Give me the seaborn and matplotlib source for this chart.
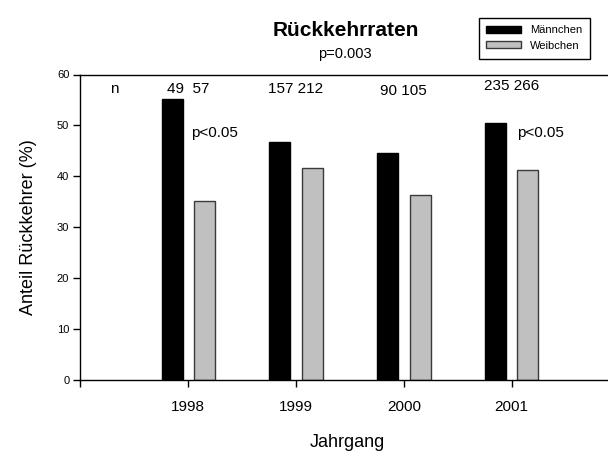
import matplotlib
matplotlib.use("Agg")
import matplotlib.pyplot as plt
import seaborn as sns
import pandas as pd
from matplotlib.patches import Patch

years = ["1998", "1999", "2000", "2001"]
maennchen = [55.2, 46.8, 44.6, 50.4]
weibchen = [35.1, 41.7, 36.3, 41.2]
n_labels = ["49  57", "157 212", "90 105", "235 266"]
series_names = ["Männchen", "Weibchen"]
colors = ["#000000", "#c0c0c0"]
edge_colors = ["#000000", "#3a3a3a"]

df = pd.DataFrame({
    "Jahrgang": years * 2,
    "Anteil": maennchen + weibchen,
    "Geschlecht": [series_names[0]] * 4 + [series_names[1]] * 4,
})

sns.set_style("ticks")
plt.rcParams["font.family"] = ["Liberation Sans", "DejaVu Sans"]
plt.rcParams["text.color"] = "black"
plt.rcParams["axes.labelcolor"] = "black"
plt.rcParams["xtick.color"] = "black"
plt.rcParams["ytick.color"] = "black"

fig = plt.figure(figsize=(6.08, 4.53), dpi=100)
ax = fig.add_axes([80.4 / 608, 1 - 379.5 / 453, 1 - 80.4 / 608 + 0.01, (379.5 - 74.5) / 453])

sns.barplot(data=df, x="Jahrgang", y="Anteil", hue="Geschlecht", order=years,
            hue_order=series_names, palette=colors, width=0.6, gap=0.35,
            saturation=1, legend=False, ax=ax, errorbar=None)

for cont, ec in zip(ax.containers, edge_colors):
    for p in cont:
        p.set_edgecolor(ec)
        p.set_linewidth(1.0)

ax.set_xlim(-1, 3.95)
ax.set_ylim(0, 60)
ax.set_xticks([-1, 0, 1, 2, 3])
ax.set_xticklabels([""] + years, fontsize=11)
ax.set_yticks(range(0, 61, 10))
ax.set_yticklabels([str(v) for v in range(0, 61, 10)], fontsize=8)
ax.tick_params(axis="both", direction="out", length=5, width=1, color="black",
               labelcolor="black")
ax.tick_params(axis="x", pad=10)
ax.tick_params(axis="y", pad=3)

for side in ["left", "bottom", "top"]:
    ax.spines[side].set_visible(True)
    ax.spines[side].set_color("black")
    ax.spines[side].set_linewidth(1.0)
ax.spines["right"].set_visible(False)

ax.set_xlabel("Jahrgang", fontsize=13, labelpad=14, color="black")
ax.set_ylabel("Anteil Rückkehrer (%)", fontsize=13, labelpad=14, color="black")

# n annotations
ax.text(-0.69, 57.2, "n", fontsize=11, ha="center", va="center", color="black")
n_x = [0.0, 1.0, 2.0, 3.0]
n_y = [57.2, 57.2, 56.7, 57.7]
for x, y, t in zip(n_x, n_y, n_labels):
    ax.text(x, y, t, fontsize=11, ha="center", va="center", color="black")

ax.text(0.03, 48.5, "p<0.05", fontsize=11, ha="left", va="center", color="black")
ax.text(3.05, 48.5, "p<0.05", fontsize=11, ha="left", va="center", color="black")

fig.text(346 / 608, 1 - 30 / 453, "Rückkehrraten", fontsize=15, fontweight="bold",
         ha="center", va="center", color="black")
fig.text(345 / 608, 1 - 54 / 453, "p=0.003", fontsize=10.5, ha="center", va="center",
         color="black")

handles = [Patch(facecolor=c, edgecolor=e, linewidth=1) for c, e in zip(colors, edge_colors)]
leg = fig.legend(handles, series_names, loc="upper left",
                 bbox_to_anchor=(473 / 608, 1 - 12 / 453), fontsize=8,
                 frameon=True, fancybox=False, shadow=False, framealpha=1,
                 handlelength=3.1, handleheight=0.6, labelspacing=0.5,
                 borderpad=0.7, handletextpad=0.8, labelcolor="black")
leg.get_frame().set_edgecolor("black")
leg.get_frame().set_linewidth(1.0)

fig.savefig("out.png", dpi=100)
